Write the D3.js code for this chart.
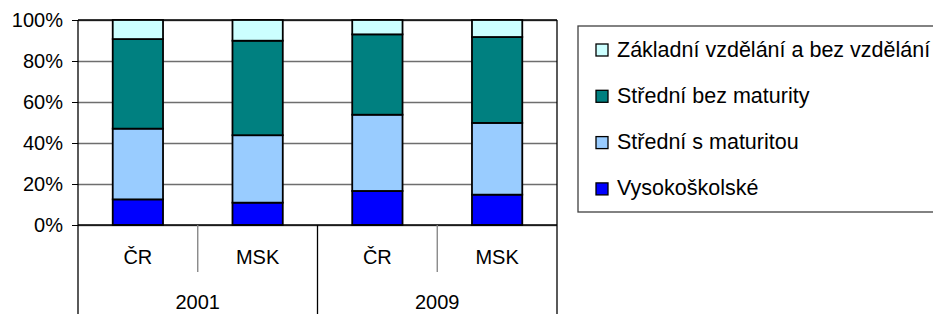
<!DOCTYPE html>
<html>
<head>
<meta charset="utf-8">
<script src="https://cdn.jsdelivr.net/npm/d3@7"></script>
<style>
  body { margin: 0; background: #fff; }
  svg { display: block; font-family: "Liberation Sans", Arial, sans-serif; }
</style>
</head>
<body>
<svg width="933" height="314"></svg>
<script>
const svg = d3.select('svg');

// categories
const regions = ['ČR', 'MSK', 'ČR', 'MSK'];
const yearOfBar = ['2001', '2001', '2009', '2009'];
const years = ['2001', '2009'];

// series, bottom to top (percent)
const seriesNames = ['Vysokoškolské', 'Střední s maturitou', 'Střední bez maturity', 'Základní vzdělání a bez vzdělání'];
const vysokoskolske = [12.5, 10.9, 16.6, 14.8];
const stredniSMaturitou = [34.5, 32.9, 37.2, 35.0];
const stredniBezMaturity = [43.7, 46.1, 39.2, 41.9];
const zakladni = [9.3, 10.1, 7.0, 8.3];
const colors = ['#0000ff', '#99ccff', '#008080', '#ccffff'];

const yTicks = [0, 0.2, 0.4, 0.6, 0.8, 1];

const rows = regions.map((r, i) => ({
  key: i,
  [seriesNames[0]]: vysokoskolske[i],
  [seriesNames[1]]: stredniSMaturitou[i],
  [seriesNames[2]]: stredniBezMaturity[i],
  [seriesNames[3]]: zakladni[i]
}));

const margin = { top: 20, left: 78 };
const innerWidth = 557 - 78;
const innerHeight = 225 - 20;

const g = svg.append('g')
  .attr('transform', `translate(${margin.left},${margin.top})`);

const xScale = d3.scaleBand()
  .domain(d3.range(regions.length))
  .range([0, innerWidth])
  .paddingInner(0.58)
  .paddingOuter(0.29);

const xGroup = d3.scaleBand()
  .domain(years)
  .range([0, innerWidth]);

const yScale = d3.scaleLinear()
  .domain([0, 1])
  .range([innerHeight, 0]);

// gridlines
const gridG = g.append('g')
  .call(d3.axisLeft(yScale).tickValues(yTicks).tickSize(-innerWidth).tickFormat(''));
gridG.select('.domain').remove();
gridG.selectAll('text').remove();
gridG.selectAll('line').attr('stroke', '#6e6e6e').attr('stroke-width', 1.3);

// y axis
const yAxisG = g.append('g')
  .call(d3.axisLeft(yScale).tickValues(yTicks).tickSize(6).tickPadding(9)
    .tickFormat(d3.format('.0%')));
yAxisG.select('.domain').remove();
yAxisG.selectAll('line').attr('stroke', '#000');
yAxisG.selectAll('text')
  .attr('font-size', 20)
  .attr('font-family', '"Liberation Sans", Arial, sans-serif')
  .attr('fill', '#000');

// plot frame: left axis, top and right
g.append('line').attr('x1', 0).attr('x2', 0).attr('y1', 0).attr('y2', innerHeight)
  .attr('stroke', '#000').attr('stroke-width', 1.3);
g.append('line').attr('x1', innerWidth).attr('x2', innerWidth).attr('y1', 0).attr('y2', innerHeight)
  .attr('stroke', '#000').attr('stroke-width', 1.3);
g.append('line').attr('x1', 0).attr('x2', innerWidth).attr('y1', 0).attr('y2', 0)
  .attr('stroke', '#000').attr('stroke-width', 1.3);

// stacked bars
const stack = d3.stack().keys(seriesNames).offset(d3.stackOffsetExpand);
const stacked = stack(rows);

g.selectAll('.layer').data(stacked)
  .enter().append('g')
    .attr('class', 'layer')
    .attr('fill', (d, i) => colors[i])
  .selectAll('rect').data(d => d)
  .enter().append('rect')
    .attr('x', d => xScale(d.data.key))
    .attr('width', xScale.bandwidth())
    .attr('y', d => yScale(d[1]))
    .attr('height', d => yScale(d[0]) - yScale(d[1]))
    .attr('stroke', '#000')
    .attr('stroke-width', 1.8);

// category axis (two levels)
const catStep = xScale.step();
const axisG = g.append('g').attr('transform', `translate(0,${innerHeight})`);
axisG.append('line').attr('x1', 0).attr('x2', innerWidth).attr('y1', 0).attr('y2', 0)
  .attr('stroke', '#000').attr('stroke-width', 1.3);

// inner separators between regions within a year
axisG.selectAll('.sep1').data(d3.range(1, regions.length).filter(i => yearOfBar[i] === yearOfBar[i - 1]))
  .enter().append('line')
    .attr('x1', i => i * catStep).attr('x2', i => i * catStep)
    .attr('y1', 0).attr('y2', 47)
    .attr('stroke', '#808080').attr('stroke-width', 1.3);

// year separators (full height)
axisG.selectAll('.sep2').data(years.concat(['end']))
  .enter().append('line')
    .attr('x1', (d, i) => i * xGroup.step()).attr('x2', (d, i) => i * xGroup.step())
    .attr('y1', 0).attr('y2', 95)
    .attr('stroke', '#000').attr('stroke-width', 1.3);

axisG.selectAll('.reg').data(regions)
  .enter().append('text')
    .attr('x', (d, i) => xScale(i) + xScale.bandwidth() / 2)
    .attr('y', 32)
    .attr('dy', '0.35em')
    .attr('text-anchor', 'middle')
    .attr('font-size', 20)
    .text(d => d);

axisG.selectAll('.yr').data(years)
  .enter().append('text')
    .attr('x', d => xGroup(d) + xGroup.bandwidth() / 2)
    .attr('y', 77)
    .attr('dy', '0.35em')
    .attr('text-anchor', 'middle')
    .attr('font-size', 20)
    .text(d => d);

// legend
const legend = svg.append('g').attr('transform', 'translate(578,26)');
legend.append('rect')
  .attr('x', 0).attr('y', 0).attr('width', 400).attr('height', 186)
  .attr('fill', '#fff').attr('stroke', '#404040').attr('stroke-width', 1.3);

const legendOrder = seriesNames.map((n, i) => ({ name: n, color: colors[i] })).reverse();
const item = legend.selectAll('.item').data(legendOrder)
  .enter().append('g')
    .attr('class', 'item')
    .attr('transform', (d, i) => `translate(18,${23 + i * 46.3})`);
item.append('rect')
  .attr('x', 0).attr('y', -5).attr('width', 12).attr('height', 12)
  .attr('fill', d => d.color)
  .attr('stroke', '#000').attr('stroke-width', 1.3);
item.append('text')
  .attr('x', 21).attr('y', 0)
  .attr('dy', '0.35em')
  .attr('font-size', 21.5)
  .text(d => d.name);
</script>
</body>
</html>
